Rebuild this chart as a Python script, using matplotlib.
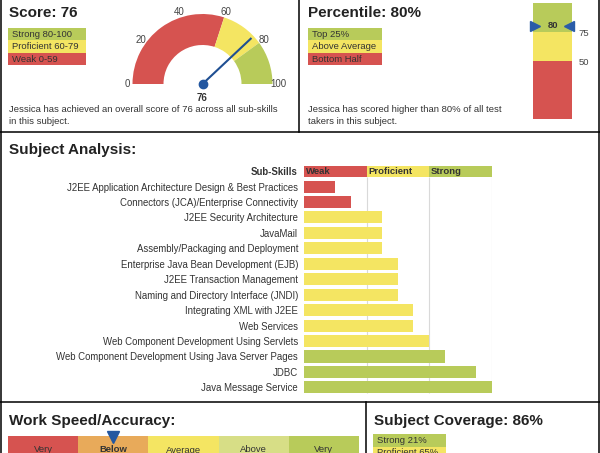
import matplotlib.pyplot as plt
from matplotlib.patches import Wedge, Rectangle
import numpy as np

plt.rcParams['font.family'] = ['Liberation Sans', 'DejaVu Sans']

# Dados
score = 76
gauge_bands = [0, 60, 80, 100]
gauge_ticks = [0, 20, 40, 60, 80, 100]
score_legend = ['Strong 80-100', 'Proficient 60-79', 'Weak 0-59']

percentile = 80
pct_bands = [0, 50, 75, 100]
pct_legend = ['Top 25%', 'Above Average', 'Bottom Half']

skills = [
    'J2EE Application Architecture Design & Best Practices',
    'Connectors (JCA)/Enterprise Connectivity',
    'J2EE Security Architecture',
    'JavaMail',
    'Assembly/Packaging and Deployment',
    'Enterprise Java Bean Development (EJB)',
    'J2EE Transaction Management',
    'Naming and Directory Interface (JNDI)',
    'Integrating XML with J2EE',
    'Web Services',
    'Web Component Development Using Servlets',
    'Web Component Development Using Java Server Pages',
    'JDBC',
    'Java Message Service',
]
skill_scores = [2, 3, 5, 5, 5, 6, 6, 6, 7, 7, 8, 9, 11, 12]
skill_bands = [0, 4, 8, 12]
band_names = ['Weak', 'Proficient', 'Strong']

# só a primeira linha aparece na imagem (o resto fica cortado)
speed_labels = ['Very', 'Below', 'Average', 'Above', 'Very']
speed_value = 1.5

coverage = 86
coverage_legend = ['Strong 21%', 'Proficient 65%']

# cores
RED = '#d65350'
YEL = '#f4e562'
GRN = '#b8cb5a'
ORA = '#e8aa5a'
LGR = '#d7de86'
BLUE = '#1f4f92'
TXT = '#333333'

W, H = 600, 453
fig = plt.figure(figsize=(6, 4.53), dpi=100)


def px_axes(x0, y0, x1, y1):
    return fig.add_axes([x0 / W, 1 - y1 / H, (x1 - x0) / W, (y1 - y0) / H])


# eixo de fundo em pixels (bordas, títulos, legendas)
bg = fig.add_axes([0, 0, 1, 1])
bg.set_xlim(0, W)
bg.set_ylim(H, 0)
bg.axis('off')

lw = 1.1
bg.plot([0.8, 0.8], [0, H], color='black', lw=lw)
bg.plot([599.2, 599.2], [0, H], color='black', lw=lw)
bg.plot([0, W], [131.5, 131.5], color='black', lw=lw)
bg.plot([298.5, 298.5], [0, 131.5], color='black', lw=lw)
bg.plot([0, W], [401.5, 401.5], color='black', lw=lw)
bg.plot([365.7, 365.7], [401.5, H], color='black', lw=lw)

tkw = dict(fontsize=11, fontweight='bold', color='#222222', va='center')
bg.text(9, 13, f'Score: {score}', **tkw)
bg.text(308, 13, f'Percentile: {percentile}%', **tkw)
bg.text(9, 150, 'Subject Analysis:', **tkw)
bg.text(9, 421, 'Work Speed/Accuracy:', **tkw)
bg.text(374, 421, f'Subject Coverage: {coverage}%', **tkw)


def legend_boxes(x0, x1, y0, labels, colors, h=12.4):
    for i, (lab, c) in enumerate(zip(labels, colors)):
        bg.add_patch(Rectangle((x0, y0 + i * h), x1 - x0, h, color=c, lw=0))
        bg.text(x0 + 4, y0 + i * h + h / 2, lab, fontsize=6.8, color=TXT, va='center')


legend_boxes(8, 86, 28, score_legend, [GRN, YEL, RED])
legend_boxes(308, 381.5, 28, pct_legend, [GRN, YEL, RED])
legend_boxes(373, 446, 434, coverage_legend, [GRN, YEL], h=12.6)

body = dict(fontsize=6.8, color=TXT, va='center')
bg.text(9, 110, f'Jessica has achieved an overall score of {score} across all sub-skills', **body)
bg.text(9, 121, 'in this subject.', **body)
bg.text(308, 110, f'Jessica has scored higher than {percentile}% of all test', **body)
bg.text(308, 121, 'takers in this subject.', **body)

# Gauge
R_PX = 70.0
cx, cy = 202.5, 84.0
gx0, gx1, gy0, gy1 = 115, 292, 0, 104
ga = px_axes(gx0, gy0, gx1, gy1)
ga.set_xlim((gx0 - cx) / R_PX, (gx1 - cx) / R_PX)
ga.set_ylim((cy - gy1) / R_PX, (cy - gy0) / R_PX)
ga.axis('off')


def ang(v):
    return 180 - 1.8 * v


for a, b, c in zip(gauge_bands[:-1], gauge_bands[1:], [RED, YEL, GRN]):
    ga.add_patch(Wedge((0, 0), 1.0, ang(b), ang(a), width=31 / R_PX, color=c, lw=0))

for t in gauge_ticks:
    th = np.radians(ang(t))
    ga.text(1.08 * np.cos(th), 1.08 * np.sin(th), str(t), fontsize=7, color='#444444',
            ha='center', va='center')

th = np.radians(ang(score))
ga.plot([0, 0.96 * np.cos(th)], [0, 0.96 * np.sin(th)], color=BLUE, lw=1.5,
        solid_capstyle='butt')
ga.plot(0, 0, 'o', color='#2357a0', ms=6)
ga.text(0, -0.2, str(score), fontsize=7, fontweight='bold', color=TXT,
        ha='center', va='center')

# Percentil
pa = px_axes(533, 3, 572, 119)
pa.set_xlim(-0.5, 0.5)
pa.set_ylim(0, 100)
pa.axis('off')
for a, b, c in zip(pct_bands[:-1], pct_bands[1:], [RED, YEL, GRN]):
    pa.bar(0, b - a, bottom=a, width=1.0, color=c, lw=0)
pa.plot(-0.45, percentile, marker='>', color='#2a5ca8', ms=7, clip_on=False)
pa.plot(0.43, percentile, marker='<', color='#2a5ca8', ms=7, clip_on=False)
pa.text(0, percentile + 1, str(percentile), fontsize=6.8, fontweight='bold', color=TXT,
        ha='center', va='center')
for v in pct_bands[1:-1]:
    pa.text(0.66, v - 1.5, str(v), fontsize=6.8, color='#444444', ha='left', va='center',
            clip_on=False)

# Subject Analysis
row_px = 15.45
hdr_y = 171.1
n = len(skills)
sa = px_axes(304, hdr_y - row_px / 2, 491.6, hdr_y + (n + 0.5) * row_px)
sa.set_xlim(0, skill_bands[-1])
sa.set_ylim(n + 0.5, -0.5)
for s in sa.spines.values():
    s.set_visible(False)
sa.set_xticks([])

band_colors = [RED, YEL, GRN]
for i, (a, b) in enumerate(zip(skill_bands[:-1], skill_bands[1:])):
    sa.barh(0, b - a, left=a, height=0.7, color=band_colors[i], lw=0)
    sa.text(a + 0.12, 0, band_names[i], fontsize=6.8, fontweight='bold', color=TXT,
            va='center', ha='left')
    sa.vlines(b, 0.35, n + 0.39, color='#d9d9d9', lw=0.8, zorder=0)


def bar_color(v):
    if v <= skill_bands[1]:
        return RED
    if v <= skill_bands[2]:
        return YEL
    return GRN


ys = np.arange(1, n + 1)
sa.barh(ys, skill_scores, height=0.78, color=[bar_color(v) for v in skill_scores], lw=0,
        zorder=2)
sa.set_yticks(np.arange(0, n + 1))
sa.set_yticklabels(['Sub-Skills'] + skills, fontsize=6.9, color=TXT)
sa.get_yticklabels()[0].set_fontweight('bold')
sa.tick_params(axis='y', length=0, pad=4.3)

# Work speed
wa = px_axes(8, 436, 359, 462)
wa.set_xlim(0, len(speed_labels))
wa.set_ylim(0, 1)
wa.axis('off')
speed_colors = [RED, ORA, YEL, LGR, GRN]
for i, (lab, c) in enumerate(zip(speed_labels, speed_colors)):
    wa.bar(i + 0.5, 1, width=1.0, bottom=0, color=c, lw=0)
    bold = 'bold' if i == int(speed_value) else 'normal'
    yy = 0.46 if lab == 'Average' else 0.5
    wa.text(i + 0.5, yy, lab, fontsize=6.8, color=TXT, ha='center', va='center',
            fontweight=bold)
wa.plot(speed_value, 0.95, marker='v', color='#2357a0', ms=8, clip_on=False)

fig.savefig('out.png', dpi=100)
